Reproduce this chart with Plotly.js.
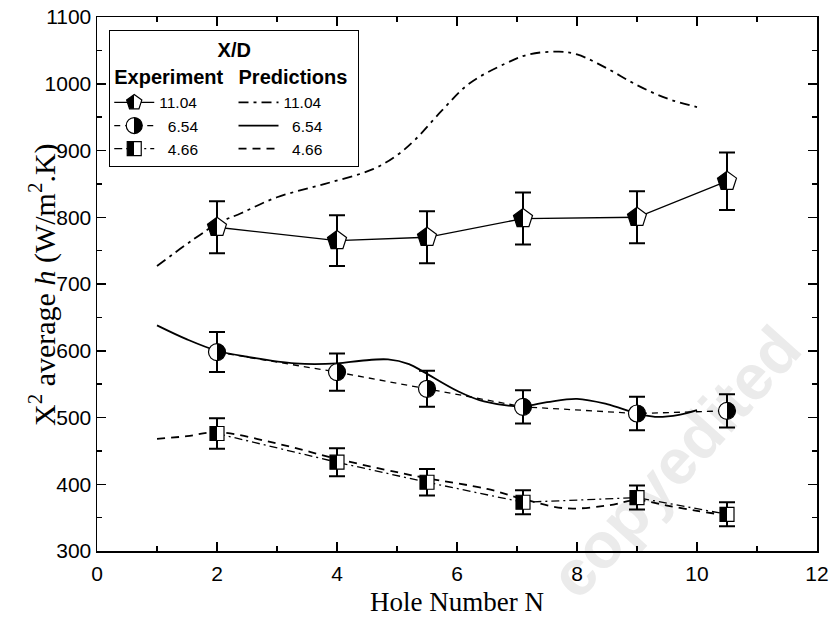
<!DOCTYPE html>
<html>
<head>
<meta charset="utf-8">
<script src="https://cdn.plot.ly/plotly-3.0.1.min.js"></script>
<style>html,body{margin:0;padding:0;background:#fff;}</style>
</head>
<body>
<svg width="0" height="0" style="position:absolute">
  <defs>
    <linearGradient id="halfLeftBlack" x1="0" y1="0" x2="1" y2="0">
      <stop offset="0.5" stop-color="#000"/><stop offset="0.5" stop-color="#fff"/>
    </linearGradient>
    <linearGradient id="halfRightBlack" x1="0" y1="0" x2="1" y2="0">
      <stop offset="0.5" stop-color="#fff"/><stop offset="0.5" stop-color="#000"/>
    </linearGradient>
  </defs>
</svg>
<div id="chart" style="width:831px;height:624px;"></div>
<script>
// ---- Experimental data (X/D) ----
const holeExp = [2, 4, 5.5, 7.1, 9, 10.5];
const exp1104 = [785, 765, 770, 798, 800, 854];
const err1104 = [39, 38, 39, 39, 39, 43];
const exp654  = [598, 568, 543, 516, 506, 510];
const err654  = [30, 28, 27, 25, 25, 25];
const exp466  = [476, 433, 403, 373, 380, 355];
const err466  = [23, 21, 20, 18, 18, 18];

// ---- Predictions ----
const holePred1104 = [1, 2, 2.4, 3, 3.8, 4.6, 5, 5.3, 5.75, 6.2, 6.8, 7.2, 7.7, 8.0, 8.5, 9, 9.5, 10];
const pred1104     = [727, 790, 806, 830, 850, 872, 893, 916, 960, 1000, 1030, 1044, 1048, 1044, 1023, 998, 978, 965];
const holePred654  = [1, 1.5, 2, 2.5, 3.3, 4, 4.4, 4.85, 5.2, 5.45, 6, 6.45, 7.1, 7.5, 8.0, 8.5, 9, 9.3, 9.7, 10];
const pred654      = [638, 617, 600, 591, 581, 581, 585, 587, 580, 568, 540, 524, 517, 523, 528, 520, 506, 501, 504, 511];
const holePred466  = [1, 1.5, 2, 3, 4, 5, 5.5, 6.5, 7.1, 7.8, 8.5, 9, 9.5, 10, 10.3];
const pred466      = [468, 472, 478, 461, 438, 418, 409, 393, 378, 364, 368, 376, 368, 360, 356];

const seriesNames = ['11.04', '\u00a0\u00a06.54', '\u00a0\u00a04.66'];
const groupExp = 'Experiment';
const groupPred = 'Predictions';
const legendTitle = 'X/D';
const xTitle = 'Hole Number N';
const yTitle = 'X<sup>2</sup> average <i>h</i> (W/m<sup>2</sup>.K)';
const watermark = 'copyedited';

const sans = 'Liberation Sans, Arial, sans-serif';
const serif = 'Liberation Serif, Times New Roman, serif';

function predTrace(x, y, name, dash, rank) {
  return {
    x: x, y: y, name: name, type: 'scatter', mode: 'lines',
    line: {color: '#000', width: 1.8, dash: dash, shape: 'spline', smoothing: 1},
    legendgroup: 'pred', legendrank: rank,
    legendgrouptitle: {text: '<b>' + groupPred + '</b>', font: {size: 20, family: sans, color: '#000'}},
    hoverinfo: 'skip'
  };
}
function expTrace(y, err, name, dash, symbol, size, half, rank) {
  return {
    x: holeExp, y: y, name: name, type: 'scatter', mode: 'lines+markers',
    line: {color: '#000', width: 1.3, dash: dash},
    marker: {symbol: symbol, size: size, color: '#fff', line: {color: '#000', width: 1.2}},
    error_y: {type: 'data', array: err, visible: true, color: '#000', thickness: 2, width: 8},
    legendgroup: 'exp', legendrank: rank, meta: half,
    legendgrouptitle: {text: '<b>' + groupExp + '</b>', font: {size: 20, family: sans, color: '#000'}},
    hoverinfo: 'skip'
  };
}

const data = [
  predTrace(holePred1104, pred1104, seriesNames[0], '10px,5px,3px,5px', 4),
  predTrace(holePred654, pred654, seriesNames[1], 'solid', 5),
  predTrace(holePred466, pred466, seriesNames[2], '8px,6px', 6),
  expTrace(exp1104, err1104, seriesNames[0], 'solid', 'pentagon', 20, 'halfLeftBlack', 1),
  expTrace(exp654, err654, seriesNames[1], '6px,5px', 'circle', 17, 'halfRightBlack', 2),
  expTrace(exp466, err466, seriesNames[2], '8px,4px,2px,4px', 'square', 14, 'halfLeftBlack', 3)
];

const axisCommon = {
  showline: true, linecolor: '#000', linewidth: 1.5, mirror: 'ticks',
  ticks: 'inside', ticklen: 9, tickwidth: 1.5, tickcolor: '#000',
  showgrid: false, zeroline: false,
  tickfont: {family: sans, size: 21, color: '#000'}
};

const layout = {
  width: 831, height: 624,
  margin: {l: 97, r: 14, t: 17, b: 73},
  paper_bgcolor: '#fff', plot_bgcolor: '#fff',
  showlegend: true,
  xaxis: Object.assign({}, axisCommon, {
    range: [0, 12], dtick: 2, tick0: 0, ticklabelstandoff: 3,
    minor: {dtick: 1, ticklen: 5, tickwidth: 1.5, tickcolor: '#000', ticks: 'inside'},
    title: {text: xTitle, font: {family: serif, size: 27, color: '#000'}, standoff: 8}
  }),
  yaxis: Object.assign({}, axisCommon, {
    range: [300, 1100], dtick: 100, tick0: 300,
    minor: {dtick: 50, ticklen: 5, tickwidth: 1.5, tickcolor: '#000', ticks: 'inside'}
  }),
  legend: {
    orientation: 'h', traceorder: 'grouped',
    x: 0.017, y: 0.976, xanchor: 'left', yanchor: 'top',
    bgcolor: '#fff', bordercolor: '#000', borderwidth: 1,
    font: {family: sans, size: 15.5, color: '#000'},
    title: {text: '<b>' + legendTitle + '</b>', side: 'top center', font: {family: sans, size: 20, color: '#000'}},
    itemwidth: 40
  },
  annotations: [{
    xref: 'paper', yref: 'paper', x: 0.803, y: 0.167, xanchor: 'center', yanchor: 'middle',
    text: '<b>' + watermark + '</b>', showarrow: false, textangle: -48,
    font: {family: sans, size: 64, color: '#ebebeb'}
  }, {
    xref: 'paper', yref: 'paper', x: -0.0764, y: 0.5, xanchor: 'center', yanchor: 'middle',
    text: yTitle, showarrow: false, textangle: -90,
    font: {family: serif, size: 30, color: '#000'}
  }]
};

Plotly.newPlot('chart', data, layout, {staticPlot: true}).then(function(gd) {
  function applyFill(sel, pathSel) {
    gd.querySelectorAll(sel).forEach(function(tr) {
      const d = tr.__data__;
      const t = d && d[0] && d[0].trace;
      if (t && t.meta && typeof t.meta === 'string') {
        tr.querySelectorAll(pathSel).forEach(function(p) { p.style.fill = 'url(#' + t.meta + ')'; });
      }
    });
  }
  applyFill('.scatterlayer .trace', 'path.point');
  applyFill('.legend .traces', 'path.scatterpts');
  // put the watermark below the plot content
  const ann = gd.querySelector('.annotation');
  const mainSvg = gd.querySelector('.main-svg');
  const cart = mainSvg && mainSvg.querySelector('.cartesianlayer');
  if (ann && cart) { cart.parentNode.insertBefore(ann, cart); }
});
</script>
</body>
</html>
